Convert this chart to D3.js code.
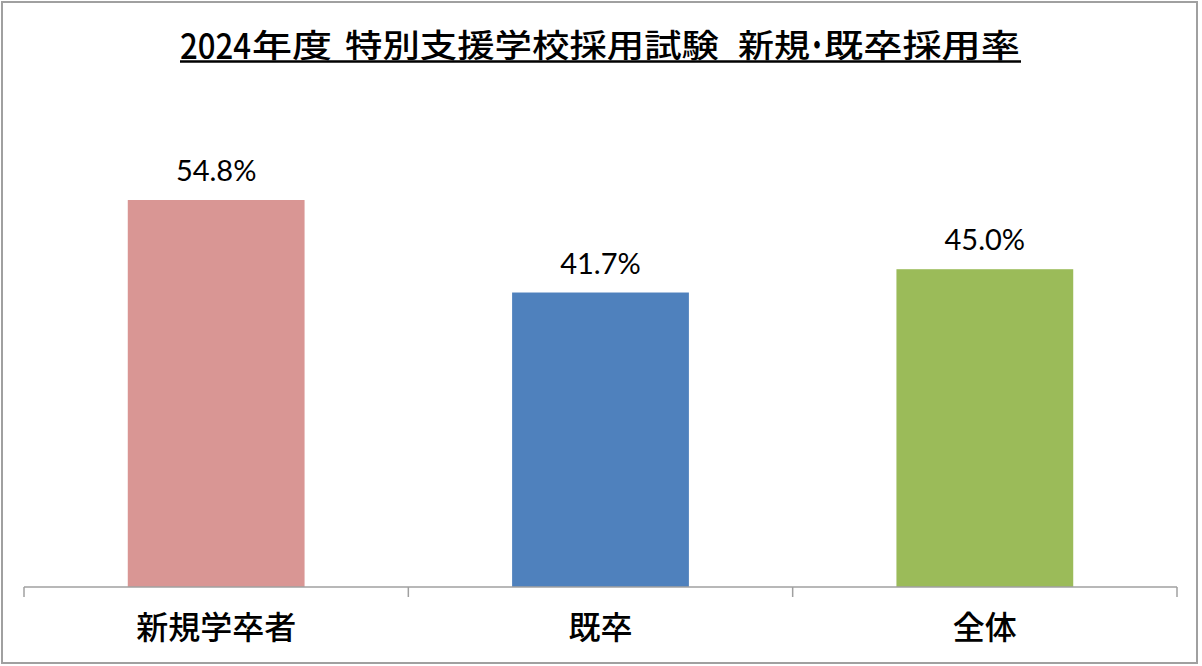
<!DOCTYPE html>
<html><head><meta charset="utf-8">
<script src="https://cdn.jsdelivr.net/npm/d3@7"></script>
<style>body{margin:0;background:#fff;}svg{display:block;}</style>
</head><body>
<svg id="chart" width="1202" height="666"></svg>
<script>
// Title: "2024年度 特別支援学校採用試験　新規・既卒採用率"
const titleParts = ["2024", "年度", "特別支援学校採用試験", "新規", "・", "既卒採用率"];
const categories = ["新規学卒者", "既卒", "全体"];
const values = [54.8, 41.7, 45.0];
const colors = ["#D99694", "#4F81BD", "#9BBB59"];
const yMax = 60;

const svg = d3.select("#chart");
svg.append("rect").attr("x",2).attr("y",2).attr("width",1195).attr("height",661)
  .attr("fill","#fff").attr("stroke","#a0a0a0").attr("stroke-width",2);

const x = d3.scaleBand().domain(categories).range([24,1177]).padding(0);
const y = d3.scaleLinear().domain([0,yMax]).range([587, 587 - 7.062*yMax]);
const barW = x.bandwidth()*0.46;

svg.append("g").selectAll("rect").data(values).join("rect")
  .attr("x",(d,i)=>x(categories[i]) + x.bandwidth()/2 - barW/2)
  .attr("y",d=>y(d)).attr("width",barW).attr("height",d=>y(0)-y(d))
  .attr("fill",(d,i)=>colors[i]);

const axis = svg.append("g").attr("transform","translate(0,587)")
  .call(d3.axisBottom(x).tickSize(0).tickFormat(""));
axis.select(".domain").remove();
axis.append("line").attr("x1",24).attr("x2",1177).attr("y1",0).attr("y2",0)
  .attr("stroke","#a0a0a0").attr("stroke-width",1.5);
const bounds = categories.map(c=>x(c)).concat([x(categories[categories.length-1])+x.bandwidth()]);
axis.selectAll("line.tk").data(bounds).join("line").attr("class","tk")
  .attr("x1",d=>d).attr("x2",d=>d).attr("y1",0).attr("y2",10)
  .attr("stroke","#a0a0a0").attr("stroke-width",1.5);

svg.append("g").selectAll("text").data(categories).join("text")
  .attr("x",d=>x(d)+x.bandwidth()/2).attr("y",639)
  .attr("text-anchor","middle").attr("font-family","'Noto Sans CJK JP'")
  .attr("font-size",32).attr("font-weight",500).attr("fill","#000").text(d=>d);

svg.append("g").selectAll("text").data(values).join("text")
  .attr("x",(d,i)=>x(categories[i])+x.bandwidth()/2).attr("y",d=>y(d)-19)
  .attr("text-anchor","middle").attr("font-family","Lato")
  .attr("font-size",29).attr("fill","#000").text(d=>d.toFixed(1)+"%");

// title segments as tspans of one text: [x start, width, baseline, font size]
const titleLayout = [
  [180, 71, 59, 35],
  [252, 80, 57, 32],
  [345, 374, 57, 32],
  [738, 72, 57, 32],
  [805, 24, 57, 32],
  [824, 196, 57, 32]
];
const tt = svg.append("text").attr("font-family","'Noto Sans CJK JP'").attr("font-weight",500).attr("fill","#000");
titleParts.forEach((p,i)=>{
  const [tx,tw,ty,tf] = titleLayout[i];
  tt.append("tspan").attr("x",tx).attr("y",ty).attr("font-size",tf)
    .attr("textLength",tw).attr("lengthAdjust","spacingAndGlyphs").text(p);
});
svg.append("line").attr("x1",180).attr("x2",1021).attr("y1",61.5).attr("y2",61.5)
  .attr("stroke","#000").attr("stroke-width",2.5);
</script>
</body></html>
